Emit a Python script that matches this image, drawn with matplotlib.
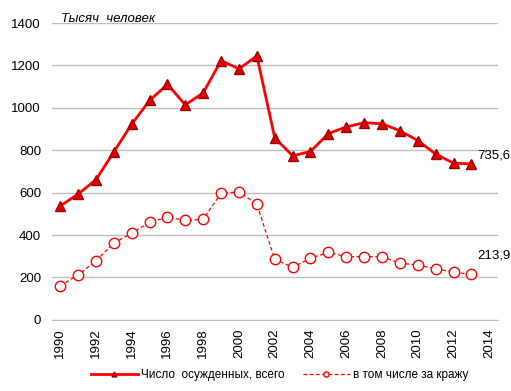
import matplotlib
matplotlib.use('Agg')
import matplotlib.pyplot as plt
import numpy as np

years = list(range(1990, 2014))
total = [537, 593, 661, 792, 923, 1035, 1111, 1014, 1071, 1223, 1184, 1245,
         859, 774, 794, 879, 910, 930, 925, 892, 846, 782, 739, 735.6]
theft = [160, 212, 278, 362, 409, 460, 484, 469, 474, 598, 603, 546,
         286, 248, 291, 318, 298, 298, 298, 267, 259, 240, 226, 213.9]

plt.rcParams['font.family'] = ['Liberation Sans', 'DejaVu Sans']

fig = plt.figure(figsize=(5.11, 3.91), dpi=100)
ax = fig.add_axes([0.102, 0.182, 0.873, 0.759])

ax.plot(years, total, color='#ff0000', lw=2, marker='^', ms=7,
        mfc='#e00000', mec='#a00000', label='Число  осужденных, всего', zorder=3)
ax.plot(years, theft, color='#ff0000', lw=0.9, ls=(0, (3, 2)), marker='o', ms=7.5,
        mfc='white', mec='#ff0000', mew=1, label='в том числе за кражу', zorder=3)

ax.annotate('735,6', xy=(years[-1], total[-1]), xytext=(4, 1.5),
            textcoords='offset points', fontsize=9.5, va='bottom')
ax.annotate('213,9', xy=(years[-1], theft[-1]), xytext=(4, 9),
            textcoords='offset points', fontsize=9.5, va='bottom')

ax.set_xlim(1989.55, 2014.5)
ax.set_ylim(0, 1400)
ax.set_yticks(np.arange(0, 1401, 200))
ax.set_xticks(np.arange(1990, 2015, 2))
ax.tick_params(axis='x', rotation=90, labelsize=9.5, length=0, pad=6)
ax.tick_params(axis='y', labelsize=9.5, length=0, pad=8)
ax.grid(axis='y', color='#bfbfbf', lw=1)
ax.set_axisbelow(True)
for s in ['top', 'right', 'left']:
    ax.spines[s].set_visible(False)
ax.spines['bottom'].set_color('#bfbfbf')

ax.text(0.02, 1.035, 'Тысяч  человек', transform=ax.transAxes, fontsize=9.5,
        style='italic', va='top')

ax.legend(loc='center', bbox_to_anchor=(0.51, -0.185), ncol=2, frameon=False,
          fontsize=8.5, handlelength=4, handletextpad=0.3, columnspacing=1.5,
          markerscale=0.5)

fig.savefig('out.png', dpi=100)
